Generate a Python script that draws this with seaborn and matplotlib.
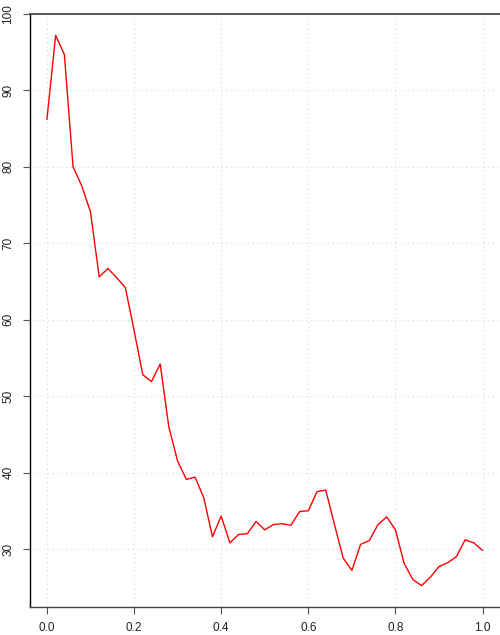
import numpy as np
import pandas as pd
import matplotlib
matplotlib.use("Agg")
import matplotlib.pyplot as plt
import seaborn as sns

# values, one every 0.02 on x
x_vals = [round(i * 0.02, 2) for i in range(51)]
y_vals = [86.2, 97.2, 94.7, 80.0, 77.5, 74.1, 65.6, 66.7, 65.5, 64.2,
          58.6, 52.8, 51.9, 54.2, 45.9, 41.5, 39.1, 39.4, 36.7, 31.6,
          34.3, 30.8, 31.9, 32.0, 33.6, 32.5, 33.2, 33.3, 33.1, 34.9,
          35.0, 37.5, 37.7, 33.2, 28.8, 27.2, 30.6, 31.1, 33.2, 34.2,
          32.5, 28.1, 26.0, 25.2, 26.3, 27.7, 28.2, 29.0, 31.2, 30.8,
          29.8]
x_ticks = [0.0, 0.2, 0.4, 0.6, 0.8, 1.0]
y_ticks = [30, 40, 50, 60, 70, 80, 90, 100]

df = pd.DataFrame({"x": x_vals, "y": y_vals})

sns.set_style("white")
plt.rcParams['font.family'] = ['Liberation Sans', 'DejaVu Sans']

fig = plt.figure(figsize=(5, 6.35), dpi=100)
ax = fig.add_axes([0.059, 0.044, 0.941, 0.934])

sns.lineplot(data=df, x="x", y="y", color="red", linewidth=1.0, ax=ax)

ax.set_xlim(-0.04, 1.04)
ax.set_ylim(22.4, 100.0)
ax.set_xticks(x_ticks)
ax.set_yticks(y_ticks)
ax.set_xticklabels([f"{t:.1f}" for t in x_ticks], fontsize=8.5, color="#222222")
ax.set_yticklabels([str(t) for t in y_ticks], fontsize=8.5, rotation=90,
                   va="center", color="#222222")
ax.set_xlabel("")
ax.set_ylabel("")

ax.grid(True, linestyle=(0, (1, 3)), color="#d8d8d8", linewidth=0.8)
ax.set_axisbelow(True)

ax.spines["left"].set_color("black")
ax.spines["left"].set_linewidth(1.0)
ax.spines["bottom"].set_color("#444444")
ax.spines["bottom"].set_linewidth(1.0)
ax.spines["top"].set_color("#555555")
ax.spines["top"].set_linewidth(1.4)
ax.spines["right"].set_visible(False)

ax.tick_params(axis="x", direction="out", length=5, width=0.8,
               color="#555555", pad=6, bottom=True)
ax.tick_params(axis="y", direction="out", length=5, width=0.8,
               color="#555555", pad=6, left=True)

fig.savefig("out.png", dpi=100)
